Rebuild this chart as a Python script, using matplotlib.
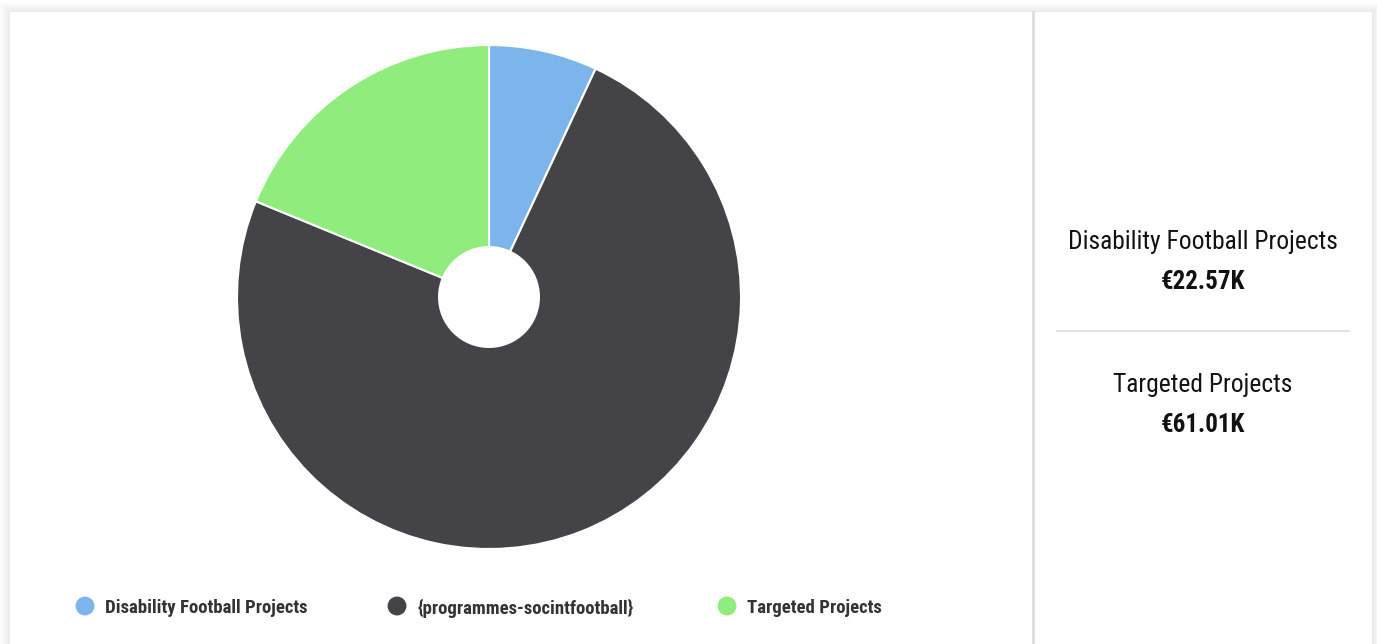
import matplotlib
matplotlib.use("Agg")
import matplotlib.pyplot as plt
from matplotlib import font_manager
from matplotlib.patches import Rectangle, Circle

# Funding by programme (EUR)
categories = ["Disability Football Projects", "{programmes-socintfootball}", "Targeted Projects"]
values = [22570, 240900, 61010]
colors = ["#7cb5ec", "#434348", "#90ed7d"]

# Side panel summary
summary_labels = ["Disability Football Projects", "Targeted Projects"]
summary_values = ["€22.57K", "€61.01K"]

available = {f.name for f in font_manager.fontManager.ttflist}
family = [f for f in ["Roboto Condensed", "Liberation Sans Narrow", "Roboto", "DejaVu Sans"] if f in available]
plt.rcParams["font.family"] = family

W, H = 1377, 644
fig = plt.figure(figsize=(W / 100, H / 100), dpi=100, facecolor="white")

# Card background with a soft shadow
bg = fig.add_axes([0, 0, 1, 1])
bg.set_xlim(0, W)
bg.set_ylim(H, 0)
bg.axis("off")
for i in range(10, 0, -1):
    bg.add_patch(Rectangle((10 - i, 12 - i), 1362 + 2 * i, 700, facecolor="#000000",
                           alpha=0.006, edgecolor="none"))
bg.add_patch(Rectangle((10, 12), 1362, 700, facecolor="white", edgecolor="none"))
bg.plot([1033, 1033], [12, H], color="#dcdde2", lw=2)
bg.plot([1057, 1349], [331, 331], color="#dcdde2", lw=1.2)

# Side panel text
cx = 1203
for i, (lab, val) in enumerate(zip(summary_labels, summary_values)):
    y0 = 241.5 + i * 143
    bg.text(cx, y0, lab, ha="center", va="center", fontsize=18.4, color="#111111")
    bg.text(cx, y0 + 40, val, ha="center", va="center", fontsize=18, fontweight="bold",
            color="#111111")

# Donut chart
r_px = 252
ccx, ccy = 489, 297
ax = fig.add_axes([(ccx - r_px) / W, (H - ccy - r_px) / H, 2 * r_px / W, 2 * r_px / H])
ax.pie(values, colors=colors, startangle=90, counterclock=False, radius=1,
       wedgeprops=dict(edgecolor="white", linewidth=1.5))
ax.add_patch(Circle((0, 0), 51 / r_px, facecolor="white", edgecolor="none", zorder=5))
ax.set_xlim(-1.0, 1.0)
ax.set_ylim(-1.0, 1.0)
ax.set_aspect("equal")
ax.axis("off")

# Legend row
legend_x = [85, 397, 727]
legend_y = 607
for x, c, lab in zip(legend_x, colors, categories):
    bg.scatter([x], [legend_y - 1], s=185, color=c, edgecolors="none")
    bg.text(x + 20, legend_y + 1, lab, ha="left", va="center", fontsize=13.5,
            fontweight="bold", color="#333333")

fig.savefig("out.png", dpi=100, facecolor="white")
